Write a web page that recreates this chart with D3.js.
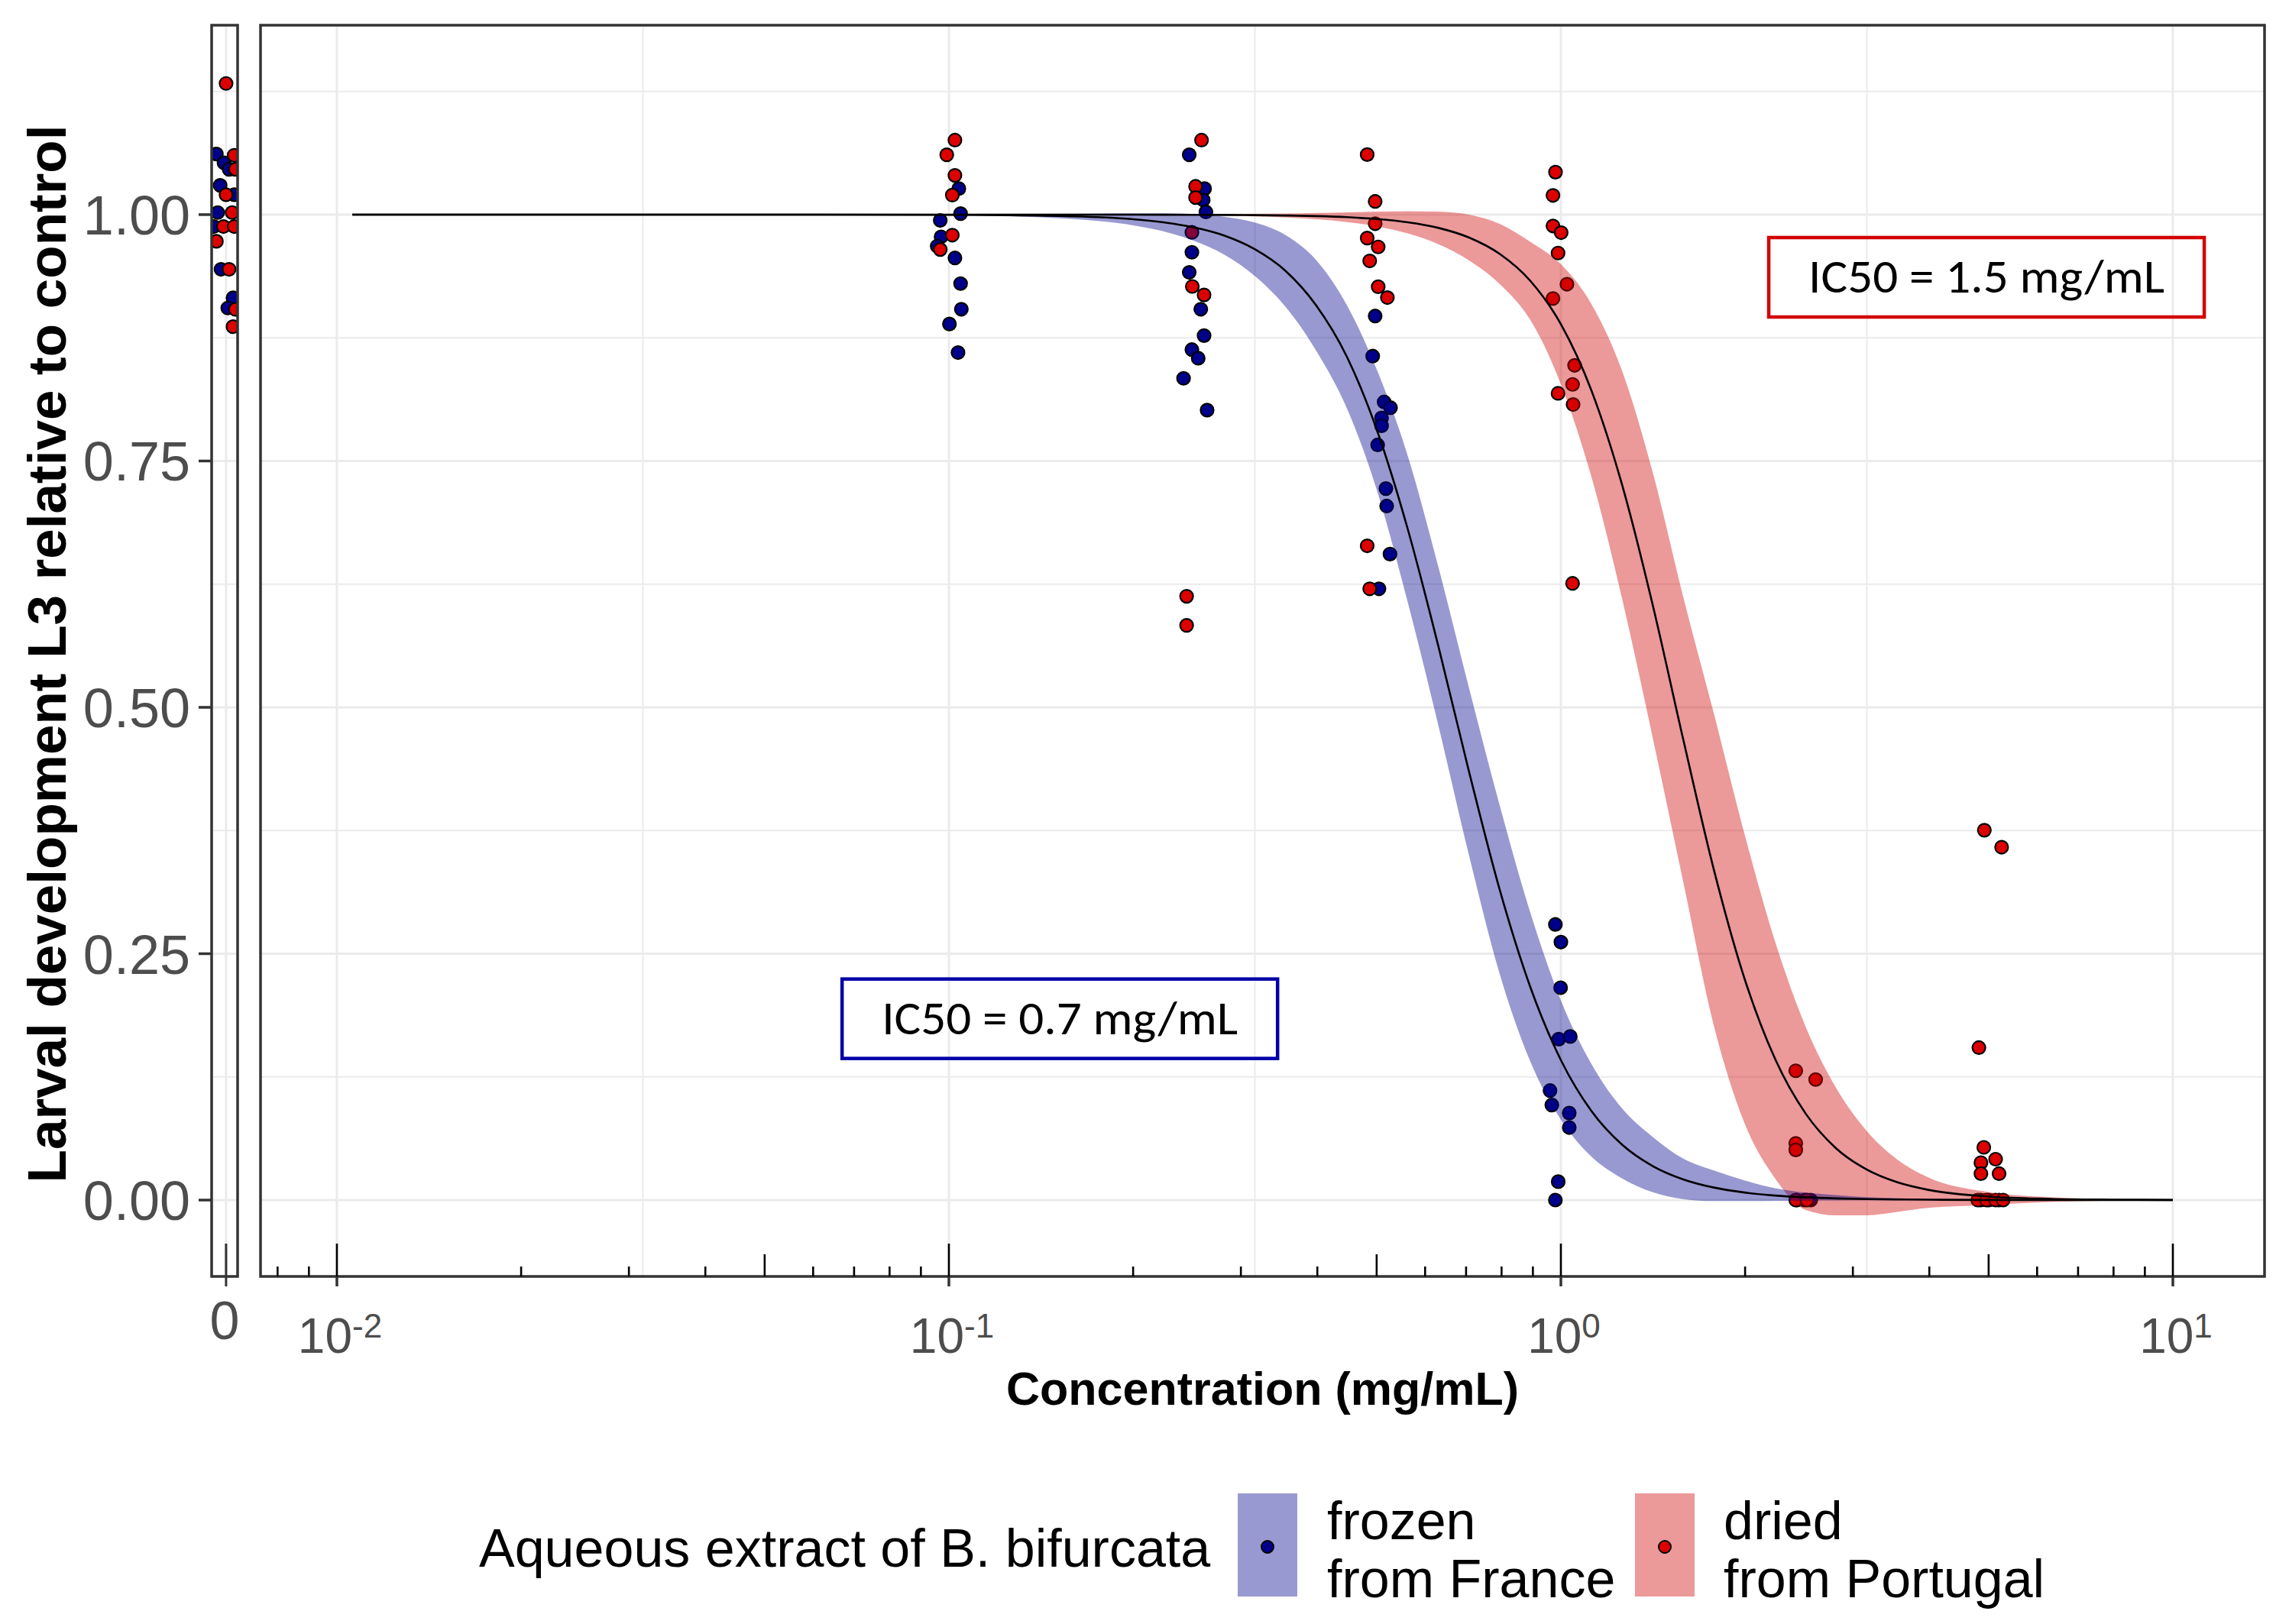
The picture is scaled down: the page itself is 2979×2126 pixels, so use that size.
<!DOCTYPE html>
<html>
<head>
<meta charset="utf-8">
<script src="https://cdn.jsdelivr.net/npm/d3@7/dist/d3.min.js"></script>
<style>
html,body{margin:0;padding:0;background:#ffffff;}
svg{display:block;}
</style>
</head>
<body>
<svg id="chart" width="2979" height="2126"></svg>
<script>
// ---------------- DATA ----------------
const seriesNames = ["frozen from France", "dried from Portugal"];
const legendTitle = "Aqueous extract of B. bifurcata";
const legendLabels = [["frozen", "from France"], ["dried", "from Portugal"]];
const xAxisTitle = "Concentration (mg/mL)";
const yAxisTitle = "Larval development L3 relative to control";
const yTicks = [0, 0.25, 0.5, 0.75, 1];
const yTickLabels = ["0.00", "0.25", "0.50", "0.75", "1.00"];
const yMinorTicks = [0.125, 0.375, 0.625, 0.875, 1.125];
const xTickExponents = [-2, -1, 0, 1];
const xMinorExponents = [-1.5, -0.5, 0.5];
const controlTickLabel = "0";

// fitted curves
const curveConc = [0.0106, 0.0316, 0.0631, 0.1, 0.126, 0.158, 0.178, 0.2, 0.224, 0.251, 0.282, 0.316, 0.355, 0.398,
  0.447, 0.501, 0.562, 0.631, 0.708, 0.794, 0.891, 1, 1.122, 1.259, 1.413, 1.585, 1.778, 1.995, 2.239, 2.512, 2.818, 3.162,
  3.548, 3.981, 5.012, 6.31, 7.943, 10];
const frozenFit = [1, 1, 1, 0.9998, 0.9994, 0.9983, 0.9972, 0.9953, 0.9922, 0.9871, 0.9786, 0.9649, 0.9428, 0.9081,
  0.8558, 0.7806, 0.6810, 0.5615, 0.4344, 0.3154, 0.2165, 0.1421, 0.0903, 0.0562, 0.0345, 0.0210, 0.0127, 0.0077, 0.0046, 0.0028, 0.0017, 0.0010,
  0.0006, 0.0004, 0.0001, 0.0001, 0, 0];
const frozenLower = [1, 1, 0.9999, 0.9993, 0.9983, 0.9957, 0.9932, 0.9892, 0.9831, 0.9737, 0.9593, 0.9378, 0.9064, 0.8622,
  0.8034, 0.7194, 0.6067, 0.4810, 0.3494, 0.2299, 0.1409, 0.0816, 0.0440, 0.0220, 0.0080, 0.0010, -0.0010, -0.0010, -0.0008, -0.0005, -0.0003, -0.0002,
  -0.0001, 0, 0, 0, 0, 0];
const frozenUpper = [1, 1, 1.0001, 1.0003, 1.0005, 1.0009, 1.0012, 1.0014, 1.0013, 1.0005, 0.9979, 0.9920, 0.9792, 0.9540,
  0.9082, 0.8418, 0.7553, 0.6420, 0.5194, 0.4009, 0.2921, 0.2026, 0.1380, 0.0930, 0.0640, 0.0420, 0.0300, 0.0200, 0.0120, 0.0075, 0.0050, 0.0030,
  0.0020, 0.0010, 0.0003, 0.0001, 0, 0];
const driedFit = [1, 1, 1, 1, 1, 1, 1, 1, 0.9999, 0.9998, 0.9997, 0.9995, 0.9991, 0.9985,
  0.9974, 0.9955, 0.9922, 0.9865, 0.9767, 0.9602, 0.9329, 0.8888, 0.8214, 0.7258, 0.6037, 0.4672, 0.3354, 0.2250, 0.1432, 0.0877, 0.0524, 0.0309,
  0.0180, 0.0104, 0.0035, 0.0012, 0.0004, 0.0001];
const driedLower = [1, 1, 1, 1, 1, 0.9999, 0.9999, 0.9998, 0.9996, 0.9993, 0.9989, 0.9982, 0.9971, 0.9953,
  0.9925, 0.9880, 0.9809, 0.9700, 0.9535, 0.9297, 0.8933, 0.8279, 0.7337, 0.6102, 0.4690, 0.3226, 0.1769, 0.0783, 0.0220, -0.0100, -0.0155, -0.0155,
  -0.0120, -0.0080, -0.0050, -0.0020, -0.0005, -0.0002];
const driedUpper = [1, 1, 1, 1, 1, 1.0001, 1.0001, 1.0002, 1.0002, 1.0003, 1.0005, 1.0008, 1.0011, 1.0017,
  1.0023, 1.0030, 1.0035, 1.0030, 0.9999, 0.9907, 0.9725, 0.9497, 0.9091, 0.8414, 0.7384, 0.6118, 0.4939, 0.3717, 0.2623, 0.1758, 0.1136, 0.0700,
  0.0410, 0.0230, 0.0080, 0.0030, 0.0010, 0.0004];

// observations (concentration as plotted, with jitter)
const frozenConc = [0.1038, 0.1045, 0.0968, 0.0971, 0.0957, 0.1023, 0.1045, 0.1048, 0.1002, 0.1035,
  0.2470, 0.2617, 0.2604, 0.2630, 0.2495, 0.2470, 0.2580, 0.2612, 0.2495, 0.2555, 0.2418, 0.2642,
  0.4972, 0.4926, 0.5143, 0.5268, 0.5093, 0.5093, 0.5019, 0.5177, 0.5192, 0.5257, 0.5044,
  0.9795, 1.0, 0.999, 0.992, 1.036, 0.960, 0.9666, 1.032, 1.032, 0.990, 0.9795,
  2.43, 2.50, 2.56, 4.85, 5.0, 5.2];
const frozenValue = [1.0264, 1.001, 0.9941, 0.9775, 0.968, 0.956, 0.930, 0.904, 0.889, 0.860,
  1.0607, 1.0264, 1.0149, 1.0027, 0.9618, 0.9414, 0.904, 0.8772, 0.863, 0.8543, 0.8339, 0.8016,
  0.8971, 0.8564, 0.8099, 0.8041, 0.7937, 0.7857, 0.7663, 0.722, 0.7043, 0.6555, 0.6203,
  0.2797, 0.2618, 0.2155, 0.1633, 0.166, 0.1111, 0.0964, 0.0883, 0.0736, 0.0187, 0.0,
  0, 0, 0, 0, 0, 0];
const driedConc = [0.1023, 0.0992, 0.1023, 0.1013, 0.1013, 0.0968,
  0.2587, 0.2530, 0.2530, 0.2495, 0.2499, 0.2612, 0.2446, 0.2446,
  0.4825, 0.4972, 0.4972, 0.4825, 0.5029, 0.4871, 0.5029, 0.5206, 0.4825, 0.4871,
  0.980, 0.9707, 0.9707, 1.001, 0.9894, 1.023, 0.9707, 1.053, 1.045, 0.9894, 1.047, 1.045,
  2.420, 2.608, 2.420, 2.420, 2.420, 2.523,
  4.92, 5.25, 4.82, 4.91, 4.857, 5.133, 4.857, 5.2, 4.80, 4.96, 5.133, 5.28];
const driedValue = [1.0756, 1.0607, 1.0398, 1.0198, 0.9792, 0.9646,
  1.0756, 1.0287, 1.0173, 0.982, 0.9271, 0.9185, 0.6127, 0.5832,
  1.0609, 1.0134, 0.9908, 0.9762, 0.9672, 0.953, 0.9268, 0.9158, 0.6639, 0.6203,
  1.0431, 1.0195, 0.9885, 0.9817, 0.961, 0.9294, 0.9149, 0.847, 0.8277, 0.8186, 0.8073, 0.6258,
  0.1312, 0.1223, 0.0575, 0.0509, 0.0, 0.0,
  0.3753, 0.3581, 0.1547, 0.0535, 0.038, 0.0415, 0.0268, 0.0268, 0, 0, 0, 0];
// control (concentration 0), horizontal jitter in panel units
const frozenControlJitter = [-0.67, -0.14, 0.21, -0.41, 0.56, -0.58, -0.85, -0.35, 0.48, 0.12];
const frozenControlValue = [1.0615, 1.0525, 1.046, 1.0297, 1.0202, 1.0021, 0.9879, 0.9445, 0.9155, 0.9052];
const driedControlJitter = [0, 0.56, 0.65, 0, 0.42, -0.18, 0.56, -0.67, 0.21, 0.65, 0.48];
const driedControlValue = [1.1331, 1.0602, 1.046, 1.0202, 1.0021, 0.9879, 0.9879, 0.9729, 0.9445, 0.9039, 0.8863];

// IC50 annotations (data coordinates of box centre)
const annotText = ["IC50 = 0.7 mg/mL", "IC50 = 1.5 mg/mL"];
const annotConc = [0.1518, 4.96];
const annotValue = [0.184, 0.9364];

// ---------------- STYLE / LAYOUT ----------------
const pointFill = ["#00008b", "#dd0000"];
const ribbonFill = ["#00008b", "#cd0000"];
const ribbonOpacity = 0.4;
const boxStroke = ["#0000a8", "#d40000"];
const font = "'Liberation Sans', Arial, Helvetica, sans-serif";
const calib = "Carlito, Calibri, Lato, 'Liberation Sans', sans-serif";

const P = {left: 341, right: 2964, top: 33, bottom: 1671};
const C = {left: 277, right: 311};

const svg = d3.select("#chart");
svg.append("rect").attr("width", 2979).attr("height", 2126).attr("fill", "#ffffff");

const x = d3.scaleLog().domain([Math.pow(10, -2.1248), Math.pow(10, 1.1498)]).range([P.left, P.right]);
const x0 = d3.scaleLinear().domain([-1, 0.8]).range([C.left, C.right]);
const y = d3.scaleLinear().domain([-0.0775, 1.1922]).range([P.bottom, P.top]);

const defs = svg.append("defs");
defs.append("clipPath").attr("id", "clipMain").append("rect")
  .attr("x", P.left).attr("y", P.top).attr("width", P.right - P.left).attr("height", P.bottom - P.top);
defs.append("clipPath").attr("id", "clipCtrl").append("rect")
  .attr("x", C.left).attr("y", P.top).attr("width", C.right - C.left).attr("height", P.bottom - P.top);

const gridCol = "#ebebeb";
// ---- grid: control panel
const gC = svg.append("g").attr("clip-path", "url(#clipCtrl)");
gC.selectAll(".ymin").data(yMinorTicks).join("line")
  .attr("x1", C.left).attr("x2", C.right).attr("y1", d => y(d)).attr("y2", d => y(d))
  .attr("stroke", gridCol).attr("stroke-width", 2);
gC.selectAll(".ymaj").data(yTicks).join("line")
  .attr("x1", C.left).attr("x2", C.right).attr("y1", d => y(d)).attr("y2", d => y(d))
  .attr("stroke", gridCol).attr("stroke-width", 3);
gC.append("line").attr("x1", x0(0)).attr("x2", x0(0)).attr("y1", P.top).attr("y2", P.bottom)
  .attr("stroke", gridCol).attr("stroke-width", 3);

// ---- grid: main panel
const gM = svg.append("g").attr("clip-path", "url(#clipMain)");
gM.selectAll(".ymin").data(yMinorTicks).join("line")
  .attr("x1", P.left).attr("x2", P.right).attr("y1", d => y(d)).attr("y2", d => y(d))
  .attr("stroke", gridCol).attr("stroke-width", 2);
gM.selectAll(".xmin").data(xMinorExponents).join("line")
  .attr("x1", d => x(Math.pow(10, d))).attr("x2", d => x(Math.pow(10, d))).attr("y1", P.top).attr("y2", P.bottom)
  .attr("stroke", gridCol).attr("stroke-width", 2);
gM.selectAll(".ymaj").data(yTicks).join("line")
  .attr("x1", P.left).attr("x2", P.right).attr("y1", d => y(d)).attr("y2", d => y(d))
  .attr("stroke", gridCol).attr("stroke-width", 3);
gM.selectAll(".xmaj").data(xTickExponents).join("line")
  .attr("x1", d => x(Math.pow(10, d))).attr("x2", d => x(Math.pow(10, d))).attr("y1", P.top).attr("y2", P.bottom)
  .attr("stroke", gridCol).attr("stroke-width", 3);

// ---- points (drawn below ribbons, as in the original)
function pts(g, xs, ys, fill, xs2) {
  g.selectAll(null).data(d3.range(xs.length)).join("circle")
    .attr("cx", i => xs2(xs[i])).attr("cy", i => y(ys[i])).attr("r", 8.5)
    .attr("fill", fill).attr("stroke", "#000").attr("stroke-width", 2.2);
}
pts(gC.append("g"), frozenControlJitter, frozenControlValue, pointFill[0], x0);
pts(gC.append("g"), driedControlJitter, driedControlValue, pointFill[1], x0);
pts(gM.append("g"), frozenConc, frozenValue, pointFill[0], x);
pts(gM.append("g"), driedConc, driedValue, pointFill[1], x);

// ---- ribbons
const curveRows = d3.range(curveConc.length);
function ribbon(lower, upper, fill) {
  const area = d3.area().x(i => x(curveConc[i])).y0(i => y(lower[i])).y1(i => y(upper[i])).curve(d3.curveMonotoneX);
  gM.append("path").datum(curveRows).attr("d", area).attr("fill", fill).attr("fill-opacity", ribbonOpacity);
}
ribbon(driedLower, driedUpper, ribbonFill[1]);
ribbon(frozenLower, frozenUpper, ribbonFill[0]);

// ---- fitted lines
function fitLine(fit) {
  const line = d3.line().x(i => x(curveConc[i])).y(i => y(fit[i])).curve(d3.curveMonotoneX);
  gM.append("path").datum(curveRows).attr("d", line).attr("fill", "none").attr("stroke", "#000").attr("stroke-width", 2.6);
}
fitLine(frozenFit);
fitLine(driedFit);

// ---- IC50 boxes
const boxW = 570, boxH = 104;
annotText.forEach((t, i) => {
  const cx = x(annotConc[i]), cy = y(annotValue[i]);
  svg.append("rect").attr("x", cx - boxW / 2).attr("y", cy - boxH / 2).attr("width", boxW).attr("height", boxH)
    .attr("fill", "none").attr("stroke", boxStroke[i]).attr("stroke-width", 4.5);
  svg.append("text").attr("x", cx).attr("y", cy + 20).attr("text-anchor", "middle")
    .attr("font-family", calib).attr("font-size", 62).attr("fill", "#000")
    .attr("textLength", 466).attr("lengthAdjust", "spacingAndGlyphs").text(t);
});

// ---- panel borders
const border = "#333333";
svg.append("rect").attr("x", P.left).attr("y", P.top).attr("width", P.right - P.left).attr("height", P.bottom - P.top)
  .attr("fill", "none").attr("stroke", border).attr("stroke-width", 3.5);
svg.append("rect").attr("x", C.left).attr("y", P.top).attr("width", C.right - C.left).attr("height", P.bottom - P.top)
  .attr("fill", "none").attr("stroke", border).attr("stroke-width", 3.5);

// ---- y axis ticks + labels
svg.selectAll(".ytick").data(yTicks).join("line")
  .attr("x1", 260).attr("x2", C.left).attr("y1", d => y(d)).attr("y2", d => y(d))
  .attr("stroke", border).attr("stroke-width", 3.5);
svg.selectAll(".ylab").data(yTicks).join("text")
  .attr("x", 249).attr("y", d => y(d) + 26).attr("text-anchor", "end")
  .attr("font-family", font).attr("font-size", 72).attr("fill", "#4d4d4d")
  .text((d, i) => yTickLabels[i]);

// ---- x axis ticks (outside) + annotation log ticks (inside)
svg.selectAll(".xtick").data(xTickExponents).join("line")
  .attr("x1", d => x(Math.pow(10, d))).attr("x2", d => x(Math.pow(10, d))).attr("y1", P.bottom).attr("y2", P.bottom + 13)
  .attr("stroke", border).attr("stroke-width", 3.5);
svg.append("line").attr("x1", x0(0)).attr("x2", x0(0)).attr("y1", P.bottom - 43).attr("y2", P.bottom + 13)
  .attr("stroke", border).attr("stroke-width", 3);
const logTicks = [];
for (let k = -3; k <= 1; k++) for (let m = 1; m <= 9; m++) {
  const c = m * Math.pow(10, k);
  if (c >= x.domain()[0] && c <= x.domain()[1]) logTicks.push({c, len: m === 1 ? 43 : (m === 5 ? 29 : 13)});
}
svg.selectAll(".logtick").data(logTicks).join("line")
  .attr("x1", d => x(d.c)).attr("x2", d => x(d.c)).attr("y1", d => P.bottom - d.len).attr("y2", P.bottom)
  .attr("stroke", "#000").attr("stroke-width", 2.6);

// x tick labels with superscripts
xTickExponents.forEach(e => {
  const t = svg.append("text").attr("x", x(Math.pow(10, e)) + 4).attr("y", 1771).attr("text-anchor", "middle")
    .attr("font-family", font).attr("fill", "#4d4d4d");
  t.append("tspan").attr("font-size", 64).text("10");
  t.append("tspan").attr("font-size", 44).attr("dy", -20).text(e < 0 ? "-" + Math.abs(e) : String(e));
});
svg.append("text").attr("x", x0(0) - 2).attr("y", 1753).attr("text-anchor", "middle")
  .attr("font-family", font).attr("font-size", 70).attr("fill", "#4d4d4d").text(controlTickLabel);

// ---- axis titles
svg.append("text").attr("x", (P.left + P.right) / 2).attr("y", 1839).attr("text-anchor", "middle")
  .attr("font-family", font).attr("font-weight", "bold").attr("font-size", 61).attr("fill", "#000").text(xAxisTitle);
svg.append("text").attr("transform", `translate(86,${(P.top + P.bottom) / 2 + 4}) rotate(-90)`).attr("text-anchor", "middle")
  .attr("font-family", font).attr("font-weight", "bold").attr("font-size", 71).attr("fill", "#000").text(yAxisTitle);

// ---- legend
svg.append("text").attr("x", 627).attr("y", 2051).attr("font-family", font).attr("font-size", 70)
  .attr("fill", "#000").text(legendTitle);
const keyX = [1620, 2140], keyLabelX = [1737, 2256];
seriesNames.forEach((s, i) => {
  svg.append("rect").attr("x", keyX[i]).attr("y", 1955).attr("width", 78).attr("height", 135)
    .attr("fill", ribbonFill[i]).attr("fill-opacity", ribbonOpacity);
  svg.append("circle").attr("cx", keyX[i] + 39).attr("cy", 2025).attr("r", 8)
    .attr("fill", pointFill[i]).attr("stroke", "#000").attr("stroke-width", 2);
  const t = svg.append("text").attr("font-family", font).attr("font-size", 70).attr("fill", "#000");
  t.append("tspan").attr("x", keyLabelX[i]).attr("y", 2015).text(legendLabels[i][0]);
  t.append("tspan").attr("x", keyLabelX[i]).attr("y", 2091).text(legendLabels[i][1]);
});
</script>
</body>
</html>
